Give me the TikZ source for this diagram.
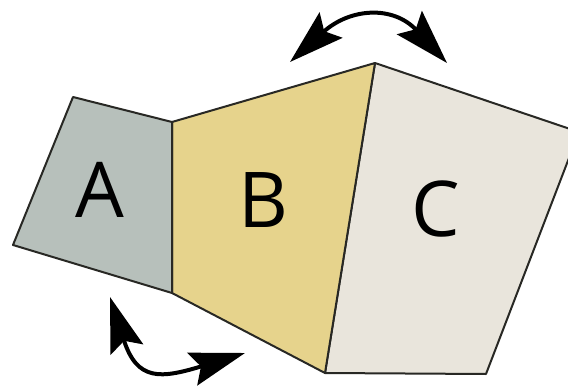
\documentclass[tikz,border=0pt]{standalone}
\usepackage{fontspec}
\setmainfont{Open Sans}
\usetikzlibrary{arrows.meta}
\definecolor{colA}{RGB}{183,192,187}
\definecolor{colB}{RGB}{230,211,140}
\definecolor{colC}{RGB}{233,229,220}
\definecolor{edge}{RGB}{40,40,36}
\tikzset{
  panel/.style={draw=edge, line width=2pt, line join=round},
  letter/.style={font=\fontsize{77}{77}\selectfont, text=black, inner sep=0pt},
  swing/.style={line width=4pt, black,
    {Stealth[length=55pt,width=34pt,inset=9pt]}-{Stealth[length=55pt,width=34pt,inset=9pt]}}
}
\begin{document}
\begin{tikzpicture}[x=1pt,y=1pt]
\useasboundingbox (0,0) rectangle (568,389);
\clip (0,0) rectangle (568,389);
\fill[white] (0,0) rectangle (568,389);
% panels
\filldraw[panel, fill=colC] (375,326) -- (579,257) -- (486,15) -- (325,16) -- cycle;
\filldraw[panel, fill=colB] (172,267) -- (375,326) -- (325,16) -- (172,96) -- cycle;
\filldraw[panel, fill=colA] (73,292) -- (172,267) -- (172,96) -- (13,144) -- cycle;
% letters
\node[letter] (a) at (100,199) {A};
\node[letter] (b) at (263,189) {B};
\node[letter] (c) at (436,180) {C};
% arrows
\coordinate (t1) at (290,327);
\coordinate (t2) at (447,326);
\draw[swing] (t1) .. controls (350,381) and (393,384) .. (t2);
\coordinate (u1) at (110,92);
\coordinate (u2) at (245,36);
\draw[swing] (u1) .. controls (137,8) and (160,10) .. (u2);
\end{tikzpicture}
\end{document}
